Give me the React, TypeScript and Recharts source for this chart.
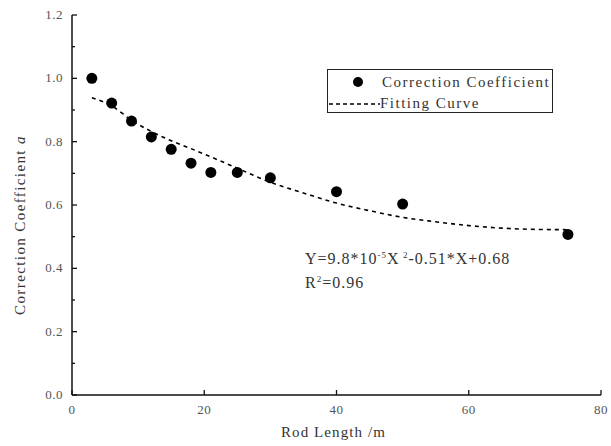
import React from 'react';
import { ComposedChart, Scatter, Line, XAxis, YAxis, Legend } from 'recharts';

const rodLength = [3, 6, 9, 12, 15, 18, 21, 25, 30, 40, 50, 75];
const coefficient = [1.0, 0.922, 0.865, 0.815, 0.776, 0.732, 0.703, 0.703, 0.686, 0.642, 0.603, 0.507];

const fitX = [3, 6, 9, 12, 15, 18, 21, 25, 30, 35, 40, 45, 50, 55, 60, 65, 70, 75];
const fitY = [0.939, 0.913, 0.868, 0.832, 0.803, 0.778, 0.752, 0.716, 0.672, 0.638, 0.606, 0.582, 0.561, 0.547, 0.535, 0.527, 0.523, 0.522];

const xTicks = [0, 20, 40, 60, 80];
const yTicks = [0, 0.1, 0.2, 0.3, 0.4, 0.5, 0.6, 0.7, 0.8, 0.9, 1.0, 1.1, 1.2];

const pointData = rodLength.map((x, i) => ({ x, y: coefficient[i] }));
const fitData = fitX.map((x, i) => ({ x, y: fitY[i] }));

const FONT = '"Liberation Serif", "DejaVu Serif", serif';

const YTick = (props: any) => {
  const { x, y, payload } = props;
  const v = payload.value;
  const major = Math.round(v * 10) % 2 === 0;
  return (
    <g>
      <line x1={x} y1={y} x2={x + (major ? 5 : 3)} y2={y} stroke="#111" strokeWidth={1.3} />
      {major && (
        <text x={x - 9} y={y} dy={4} textAnchor="end" fontFamily={FONT} fontSize={13} fill="#555" letterSpacing={0.5}>
          {v.toFixed(1)}
        </text>
      )}
    </g>
  );
};

const XTick = (props: any) => {
  const { x, y, payload } = props;
  return (
    <g>
      <line x1={x} y1={y} x2={x} y2={y - 5} stroke="#111" strokeWidth={1.3} />
      <text x={x} y={y + 19} textAnchor="middle" fontFamily={FONT} fontSize={13} fill="#555" letterSpacing={0.5}>
        {payload.value}
      </text>
    </g>
  );
};

const LegendBox = () => (
  <div
    style={{
      width: 224,
      height: 42,
      border: '1.5px solid #222',
      background: 'white',
      position: 'relative',
      fontFamily: FONT,
      fontSize: 15,
      color: '#333',
      letterSpacing: 1.5,
    }}
  >
    <svg width={60} height={42} style={{ position: 'absolute', left: 0, top: 0 }}>
      <circle cx={30} cy={12} r={5} fill="#000" />
      <line x1={1} y1={34} x2={52} y2={34} stroke="#000" strokeWidth={1.5} strokeDasharray="4 3" />
    </svg>
    <div style={{ position: 'absolute', left: 54, top: 3, whiteSpace: 'nowrap', lineHeight: '18px' }}>Correction Coefficient</div>
    <div style={{ position: 'absolute', left: 52, top: 24, whiteSpace: 'nowrap', lineHeight: '18px' }}>Fitting Curve</div>
  </div>
);

const YLabel = (props: any) => {
  const vb = props.viewBox;
  const cx = vb.x - 7;
  const cy = vb.y + vb.height / 2 + 20;
  return (
    <text
      x={cx}
      y={cy}
      transform={`rotate(-90, ${cx}, ${cy})`}
      textAnchor="middle"
      fontFamily={FONT}
      fontSize={15}
      fill="#333"
      letterSpacing={1.4}
    >
      Correction Coefficient <tspan fontStyle="italic">a</tspan>
    </text>
  );
};

const XLabel = (props: any) => {
  const vb = props.viewBox;
  return (
    <text
      x={vb.x + vb.width / 2 - 3}
      y={vb.y + 42}
      textAnchor="middle"
      fontFamily={FONT}
      fontSize={15}
      fill="#333"
      letterSpacing={1.1}
    >
      Rod Length /m
    </text>
  );
};

export default function App() {
  return (
    <div style={{ position: 'absolute', left: 0, top: 0, width: 611, height: 446, background: 'white' }}>
      <ComposedChart width={611} height={446} margin={{ top: 15, right: 10, left: 32, bottom: 21 }}>
        <XAxis
          dataKey="x"
          type="number"
          domain={[0, 80]}
          ticks={xTicks}
          interval={0}
          tickSize={0}
          tickMargin={0}
          tickLine={false}
          height={30}
          axisLine={{ stroke: '#111', strokeWidth: 1.5 }}
          tick={<XTick />}
          allowDataOverflow
          label={<XLabel />}
        />
        <YAxis
          dataKey="y"
          type="number"
          domain={[0, 1.2]}
          ticks={yTicks}
          interval={0}
          tickSize={0}
          tickMargin={0}
          tickLine={false}
          width={40}
          axisLine={{ stroke: '#111', strokeWidth: 1.5 }}
          tick={<YTick />}
          allowDataOverflow
          label={<YLabel />}
        />
        <Legend
          layout="horizontal"
          verticalAlign="middle"
          align="center"
          wrapperStyle={{ left: 327, top: 69, width: 227 }}
          content={<LegendBox />}
        />
        <Line
          data={fitData}
          dataKey="y"
          type="monotone"
          stroke="#000"
          strokeWidth={1.6}
          strokeDasharray="4 4"
          dot={false}
          activeDot={false}
          isAnimationActive={false}
          name="Fitting Curve"
        />
        <Scatter
          data={pointData}
          dataKey="y"
          fill="#000"
          shape={(p: any) => <circle cx={p.cx} cy={p.cy} r={5.5} fill="#000" />}
          isAnimationActive={false}
          name="Correction Coefficient"
        />
      </ComposedChart>
      <div
        style={{
          position: 'absolute',
          left: 305,
          top: 245,
          fontFamily: FONT,
          fontSize: 16,
          color: '#333',
          whiteSpace: 'nowrap',
          lineHeight: '20px',
          letterSpacing: 1,
        }}
      >
        <div>
          Y=9.8*10<sup style={{ fontSize: 9 }}>-5</sup>X<sup style={{ fontSize: 9 }}> 2</sup>-0.51*X+0.68
        </div>
        <div>
          R<sup style={{ fontSize: 9 }}>2</sup>=0.96
        </div>
      </div>
    </div>
  );
}
